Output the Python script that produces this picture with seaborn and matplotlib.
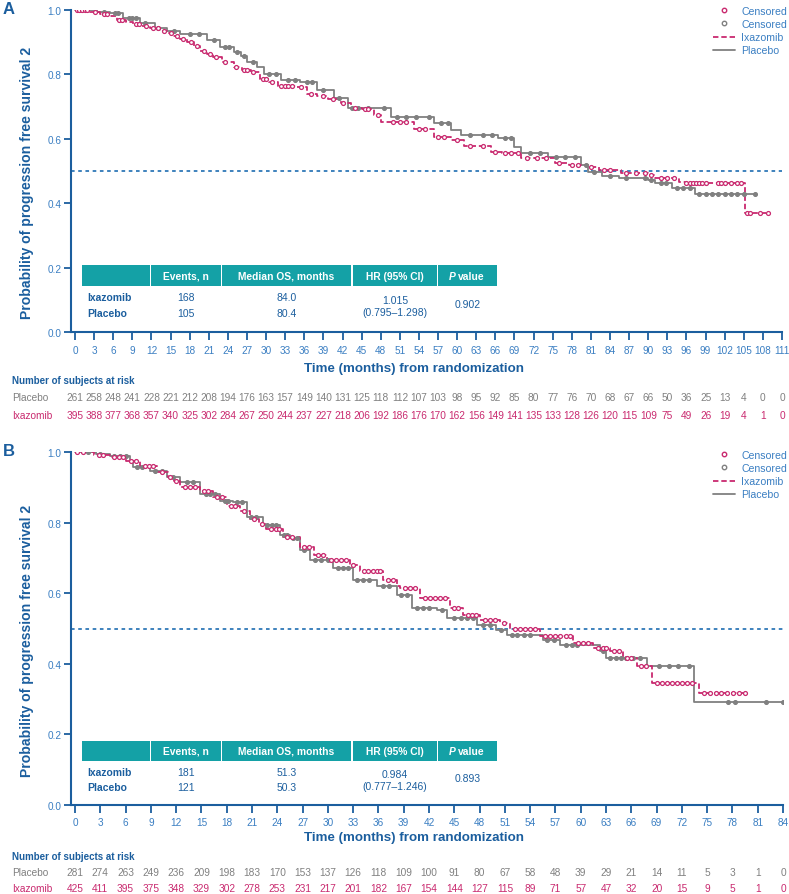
import numpy as np
import matplotlib
matplotlib.use('Agg')
import matplotlib.pyplot as plt
import matplotlib.transforms as mtrans
from matplotlib.lines import Line2D
from matplotlib.patches import Rectangle
import seaborn as sns

# ---------------------------------------------------------------------------
# Data
# ---------------------------------------------------------------------------
# Panel A: Kaplan-Meier steps (time in months, survival)
ixa_A_t = [0, 2.4, 3.9, 5.5, 6.6, 8.0, 9.1, 10.5, 11.8, 13.4, 14.5, 15.4, 16.5, 17.6, 18.7, 19.7,
           20.7, 21.7, 23.0, 24.9, 26.2, 27.6, 29.1, 30.5, 31.8, 34.8, 36.5, 38.0, 39.7, 41.7,
           43.3, 45.0, 47.0, 48.0, 53.2, 56.4, 59.0, 61.1, 65.3, 67.0, 70.0, 75.3, 77.5, 80.6,
           82.2, 85.8, 90.0, 91.0, 94.8, 95.8, 105.2]
ixa_A_s = [1.0, 0.993, 0.988, 0.982, 0.968, 0.962, 0.956, 0.950, 0.945, 0.935, 0.928, 0.919,
           0.910, 0.900, 0.888, 0.874, 0.864, 0.853, 0.838, 0.822, 0.814, 0.806, 0.785, 0.775,
           0.765, 0.762, 0.740, 0.732, 0.725, 0.712, 0.697, 0.692, 0.675, 0.653, 0.630, 0.606,
           0.597, 0.578, 0.560, 0.556, 0.541, 0.525, 0.519, 0.512, 0.503, 0.494, 0.487, 0.478,
           0.466, 0.462, 0.369]
ixa_A_end = 109.0
pla_A_t = [0, 3.5, 5.5, 7.5, 10.2, 12.5, 14.4, 16.5, 20.8, 22.8, 24.9, 26.0, 27.0, 28.5, 29.6,
           32.3, 35.4, 38.0, 40.6, 42.8, 49.6, 56.4, 59.0, 60.6, 66.4, 69.0, 70.1, 74.3, 79.5,
           80.6, 82.7, 85.4, 90.0, 91.0, 93.7, 97.3]
pla_A_s = [1.0, 0.995, 0.990, 0.975, 0.960, 0.945, 0.934, 0.925, 0.906, 0.884, 0.869, 0.858,
           0.840, 0.822, 0.800, 0.784, 0.775, 0.753, 0.728, 0.697, 0.669, 0.650, 0.628, 0.612,
           0.603, 0.575, 0.556, 0.544, 0.519, 0.497, 0.484, 0.478, 0.472, 0.462, 0.447, 0.428]
pla_A_end = 106.8

ixa_A_cens = [0.3, 0.7, 1.1, 1.5, 1.9, 3.2, 4.5, 5.0, 6.9, 7.4, 9.5, 10.0, 11.2, 12.2, 13.0, 14.0,
              15.0, 16.0, 17.0, 18.2, 19.2, 20.2, 21.2, 22.2, 23.5, 25.3, 26.5, 27.0, 28.0, 29.5,
              30.0, 31.0, 32.3, 33.0, 33.5, 34.0, 35.5, 37.0, 39.0, 40.5, 42.0, 44.0, 45.5, 46.0,
              47.5, 50.0, 51.0, 52.0, 54.0, 55.0, 57.0, 58.0, 60.0, 62.0, 64.0, 66.0, 67.5, 68.5,
              69.5, 71.0, 72.5, 74.0, 76.0, 78.0, 79.0, 81.0, 83.0, 84.0, 86.5, 88.0, 89.5, 90.5,
              92.0, 93.0, 94.0, 96.0, 96.5, 97.0, 97.5, 98.0, 98.5, 99.0, 101.0, 101.5, 102.0,
              103.0, 104.0, 104.5, 105.5, 106.0, 107.5, 108.8]
pla_A_cens = [1.0, 4.5, 6.2, 6.8, 8.5, 9.0, 9.6, 11.0, 13.0, 15.5, 18.0, 19.5, 21.8, 23.5, 24.2,
              25.5, 26.5, 28.0, 30.5, 31.5, 33.5, 34.5, 36.5, 37.2, 39.0, 41.5, 43.5, 44.5, 46.0,
              48.5, 50.5, 52.0, 53.5, 55.5, 57.5, 58.5, 62.0, 64.0, 65.5, 67.5, 68.5, 71.5, 73.0,
              75.5, 77.0, 78.5, 80.2, 81.5, 84.0, 86.5, 89.5, 90.5, 92.0, 92.8, 94.5, 95.5, 96.5,
              98.0, 99.0, 100.0, 101.0, 102.0, 103.0, 104.0, 105.0, 106.8]

# Panel B
ixa_B_t = [0, 2.2, 4.1, 6.1, 7.7, 9.7, 11.0, 11.7, 12.5, 14.8, 16.4, 18.0, 19.6, 20.8, 21.8, 22.7,
           24.7, 26.7, 28.3, 29.9, 32.6, 33.8, 36.6, 38.2, 38.6, 40.9, 44.5, 46.0, 48.0, 50.4,
           51.6, 55.2, 59.1, 61.4, 63.5, 65.0, 66.7, 68.5, 74.0]
ixa_B_s = [1.0, 0.992, 0.986, 0.975, 0.961, 0.943, 0.930, 0.918, 0.901, 0.890, 0.873, 0.848,
           0.834, 0.811, 0.797, 0.783, 0.760, 0.732, 0.707, 0.693, 0.679, 0.662, 0.637, 0.620,
           0.614, 0.586, 0.558, 0.538, 0.524, 0.515, 0.500, 0.479, 0.459, 0.445, 0.436, 0.417,
           0.394, 0.346, 0.316]
ixa_B_end = 79.5
pla_B_t = [0, 2.5, 4.1, 6.5, 6.9, 8.9, 10.9, 12.5, 14.8, 17.2, 18.7, 20.4, 22.3, 24.3, 25.5,
           26.7, 27.9, 30.6, 33.0, 35.8, 38.2, 40.0, 42.9, 44.1, 47.7, 50.0, 51.2, 55.5, 57.5,
           62.3, 63.0, 67.9, 73.5]
pla_B_s = [1.0, 0.995, 0.990, 0.975, 0.958, 0.946, 0.930, 0.915, 0.882, 0.862, 0.859, 0.817,
           0.792, 0.764, 0.755, 0.721, 0.693, 0.670, 0.637, 0.620, 0.594, 0.558, 0.552, 0.530,
           0.510, 0.496, 0.482, 0.468, 0.454, 0.437, 0.416, 0.394, 0.292]
pla_B_end = 84.0

ixa_B_cens = [0.3, 1.0, 2.8, 3.3, 4.6, 5.2, 5.7, 6.6, 7.2, 8.3, 8.8, 9.3, 10.3, 11.3, 12.0, 13.0,
              13.6, 14.2, 15.3, 15.8, 16.9, 17.4, 18.5, 19.0, 20.1, 21.3, 22.2, 23.2, 23.8, 24.2,
              25.2, 25.8, 27.2, 27.8, 28.8, 29.4, 30.4, 31.0, 31.6, 32.1, 33.0, 34.3, 34.8, 35.3,
              35.8, 36.2, 37.1, 37.7, 39.2, 39.8, 40.3, 41.5, 42.1, 42.7, 43.3, 43.9, 45.0, 45.5,
              46.6, 47.1, 47.6, 48.6, 49.2, 49.8, 50.9, 52.2, 52.8, 53.4, 54.0, 54.6, 55.8, 56.4,
              57.0, 57.6, 58.2, 58.7, 59.7, 60.3, 60.9, 62.0, 62.6, 63.0, 64.0, 64.5, 65.5, 66.0,
              67.2, 67.8, 69.0, 69.6, 70.2, 70.8, 71.4, 72.0, 72.6, 73.2, 74.6, 75.3, 76.0, 76.7,
              77.4, 78.1, 78.8, 79.5]
pla_B_cens = [1.5, 3.0, 4.6, 5.3, 6.0, 7.4, 8.0, 9.5, 10.3, 11.6, 13.3, 14.0, 15.5, 16.0, 16.6,
              17.8, 18.2, 19.2, 19.8, 20.9, 21.5, 22.8, 23.4, 23.9, 24.8, 25.1, 25.9, 26.3, 27.2,
              28.5, 29.2, 30.0, 31.2, 31.8, 32.4, 33.5, 34.2, 34.9, 36.5, 37.2, 38.7, 39.4, 40.6,
              41.3, 42.0, 43.5, 45.0, 45.8, 46.5, 47.2, 48.4, 49.2, 50.6, 51.8, 52.5, 53.3, 54.0,
              56.0, 56.8, 58.2, 59.0, 59.6, 62.6, 63.5, 64.2, 64.8, 65.4, 66.2, 67.0, 69.3, 70.5,
              71.5, 72.8, 77.5, 78.3, 82.0, 84.0]

# Number at risk
risk_A_times = list(range(0, 112, 3))
risk_A_pla = [261, 258, 248, 241, 228, 221, 212, 208, 194, 176, 163, 157, 149, 140, 131, 125, 118,
              112, 107, 103, 98, 95, 92, 85, 80, 77, 76, 70, 68, 67, 66, 50, 36, 25, 13, 4, 0, 0]
risk_A_ixa = [395, 388, 377, 368, 357, 340, 325, 302, 284, 267, 250, 244, 237, 227, 218, 206, 192,
              186, 176, 170, 162, 156, 149, 141, 135, 133, 128, 126, 120, 115, 109, 75, 49, 26,
              19, 4, 1, 0]
risk_B_times = list(range(0, 85, 3))
risk_B_pla = [281, 274, 263, 249, 236, 209, 198, 183, 170, 153, 137, 126, 118, 109, 100, 91, 80,
              67, 58, 48, 39, 29, 21, 14, 11, 5, 3, 1, 0]
risk_B_ixa = [425, 411, 395, 375, 348, 329, 302, 278, 253, 231, 217, 201, 182, 167, 154, 144, 127,
              115, 89, 71, 57, 47, 32, 20, 15, 9, 5, 1, 0]

# Summary table
table_header = ["", "Events, n", "Median OS, months", "HR (95% CI)", "value"]
table_rows = ["Ixazomib", "Placebo"]
events_A = ["168", "105"]
median_A = ["84.0", "80.4"]
hr_A = "1.015\n(0.795\u20131.298)"
p_A = "0.902"
events_B = ["181", "121"]
median_B = ["51.3", "50.3"]
hr_B = "0.984\n(0.777\u20131.246)"
p_B = "0.893"

# ---------------------------------------------------------------------------
# Style
# ---------------------------------------------------------------------------
MAG = '#C92A6F'
GRY = '#808080'
DARK = '#1B5E9E'
TICK = '#3A7EC2'
TEAL = '#14A1A6'
DOT = '#2F78B7'

sns.set_theme(style='white')
plt.rcParams['font.family'] = ['Liberation Sans', 'DejaVu Sans']

W, H = 789, 895
fig = plt.figure(figsize=(W / 100, H / 100), dpi=100)


def fx(x):
    return x / W


def fy(y):
    return 1 - y / H


def step_value(t, s, c):
    idx = np.searchsorted(np.asarray(t), c, side='right') - 1
    return np.asarray(s)[idx]


def draw_panel(letter, left, right, top, bottom, x0pad, xmax,
               ixa_t, ixa_s, ixa_end, pla_t, pla_s, pla_end, ixa_c, pla_c,
               r_times, r_pla, r_ixa, r_head_y, r_pla_y, r_ixa_y, xlabel_y,
               tab_top, tab_bot, row_y, events, median, hr, pval, leg_top):
    ax = fig.add_axes([fx(left), fy(bottom), fx(right) - fx(left), fy(top) - fy(bottom)])

    # median reference line
    ax.axhline(0.5, color=DOT, lw=1.3, ls=(0, (2, 2)), zorder=1)

    # KM curves
    sns.lineplot(x=pla_t + [pla_end], y=pla_s + [pla_s[-1]], ax=ax, color=GRY, lw=1.3,
                 drawstyle='steps-post', estimator=None, sort=False, zorder=3)
    sns.lineplot(x=ixa_t + [ixa_end], y=ixa_s + [ixa_s[-1]], ax=ax, color=MAG, lw=1.3,
                 linestyle=(0, (3, 1.6)), drawstyle='steps-post', estimator=None, sort=False,
                 zorder=4)

    # censor marks
    sns.scatterplot(x=pla_c, y=step_value(pla_t, pla_s, pla_c), ax=ax, color=GRY,
                    edgecolor=GRY, s=8, linewidth=0.8, marker='o', zorder=5)
    sns.scatterplot(x=ixa_c, y=step_value(ixa_t, ixa_s, ixa_c), ax=ax, facecolor='white',
                    edgecolor=MAG, s=8, linewidth=0.9, marker='o', zorder=6)

    ax.set_xlim(-x0pad, xmax)
    ax.set_ylim(0, 1.0)
    ax.set_xticks(r_times)
    ax.set_yticks([0.0, 0.2, 0.4, 0.6, 0.8, 1.0])
    ax.yaxis.set_major_formatter(plt.FuncFormatter(lambda v, _: f'{v:.1f}'))
    ax.tick_params(axis='both', direction='out', length=5, width=1.3, color=DARK,
                   labelcolor=TICK, labelsize=7.2, pad=2, bottom=True, left=True)
    ax.tick_params(axis='x', length=6, pad=3)
    for side in ['top', 'right']:
        ax.spines[side].set_visible(False)
    for side in ['left', 'bottom']:
        ax.spines[side].set_color(DARK)
        ax.spines[side].set_linewidth(1.5)
    ax.set_xlabel('')
    ax.set_ylabel('Probability of progression free survival 2', fontsize=10.1,
                  fontweight='bold', color=DARK)
    # label sits a little below the axes centre in the reference
    ax.yaxis.set_label_coords((34 - left) / (right - left), (bottom - (top + bottom) / 2 - 11)
                              / (bottom - top))
    for t in ax.get_xticklabels() + ax.get_yticklabels():
        t.set_clip_on(False)

    # x label
    fig.text(fx(414), fy(xlabel_y), 'Time (months) from randomization', ha='center',
             va='center', fontsize=9.6, fontweight='bold', color=DARK)

    # panel letter
    fig.text(fx(3), fy(top - 1), letter, ha='left', va='center', fontsize=12,
             fontweight='bold', color=DARK)

    # legend
    handles = [
        Line2D([], [], ls='none', marker='o', ms=3.2, mfc='white', mec=MAG, mew=1.0),
        Line2D([], [], ls='none', marker='o', ms=3.2, mfc='white', mec=GRY, mew=1.0),
        Line2D([], [], color=MAG, lw=1.3, ls=(0, (3, 1.6))),
        Line2D([], [], color=GRY, lw=1.3),
    ]
    ax.legend(handles, ['Censored', 'Censored', 'Ixazomib', 'Placebo'], loc='upper right',
              bbox_to_anchor=(fx(787), fy(leg_top)), bbox_transform=fig.transFigure,
              frameon=False, fontsize=7.6, labelcolor=TICK, handlelength=2.1,
              handletextpad=0.6, labelspacing=0.3, borderaxespad=0, borderpad=0)

    # numbers at risk
    tr = mtrans.blended_transform_factory(ax.transData, fig.transFigure)
    fig.text(fx(12), fy(r_head_y), 'Number of subjects at risk', ha='left', va='center',
             fontsize=7.0, fontweight='bold', color=DARK)
    fig.text(fx(12), fy(r_pla_y), 'Placebo', ha='left', va='center', fontsize=7.3, color=GRY)
    fig.text(fx(12), fy(r_ixa_y), 'Ixazomib', ha='left', va='center', fontsize=7.3, color=MAG)
    for t, a, b in zip(r_times, r_pla, r_ixa):
        ax.text(t, fy(r_pla_y), str(a), transform=tr, ha='center', va='center',
                fontsize=7.3, color=GRY, clip_on=False)
        ax.text(t, fy(r_ixa_y), str(b), transform=tr, ha='center', va='center',
                fontsize=7.3, color=MAG, clip_on=False)

    # summary table
    cols = [(82, 150), (151, 221), (222, 351), (353, 437), (438, 497)]
    for (c0, c1), head in zip(cols, table_header):
        fig.add_artist(Rectangle((fx(c0), fy(tab_bot)), fx(c1) - fx(c0), fy(tab_top) - fy(tab_bot),
                                 transform=fig.transFigure, facecolor=TEAL, edgecolor='none'))
        cx = (c0 + c1) / 2
        cy = (tab_top + tab_bot) / 2
        if head == 'value':
            fig.text(fx(cx - 12), fy(cy), 'P', ha='right', va='center', fontsize=7.4,
                     fontweight='bold', style='italic', color='white')
            fig.text(fx(cx - 10), fy(cy), 'value', ha='left', va='center', fontsize=7.4,
                     fontweight='bold', color='white')
        elif head:
            fig.text(fx(cx), fy(cy), head, ha='center', va='center', fontsize=7.4,
                     fontweight='bold', color='white')
    mid_y = (row_y[0] + row_y[1]) / 2
    for i, name in enumerate(table_rows):
        fig.text(fx(87), fy(row_y[i]), name, ha='left', va='center', fontsize=7.5,
                 fontweight='bold', color=DARK)
        fig.text(fx(sum(cols[1]) / 2), fy(row_y[i]), events[i], ha='center', va='center',
                 fontsize=7.5, color=DARK)
        fig.text(fx(sum(cols[2]) / 2), fy(row_y[i]), median[i], ha='center', va='center',
                 fontsize=7.5, color=DARK)
    fig.text(fx(sum(cols[3]) / 2), fy(mid_y + 1), hr, ha='center', va='center', fontsize=7.5,
             color=DARK, linespacing=1.25)
    fig.text(fx(sum(cols[4]) / 2), fy(mid_y - 1), pval, ha='center', va='center',
             fontsize=7.5, color=DARK)
    return ax


draw_panel('A', 71, 782, 11, 333, 0.63, 111,
           ixa_A_t, ixa_A_s, ixa_A_end, pla_A_t, pla_A_s, pla_A_end, ixa_A_cens, pla_A_cens,
           risk_A_times, risk_A_pla, risk_A_ixa, 381, 398, 416, 369,
           266, 287, (298, 314), events_A, median_A, hr_A, p_A, 7)

draw_panel('B', 71, 783, 453, 806, 0.47, 84,
           ixa_B_t, ixa_B_s, ixa_B_end, pla_B_t, pla_B_s, pla_B_end, ixa_B_cens, pla_B_cens,
           risk_B_times, risk_B_pla, risk_B_ixa, 857, 873, 889, 838,
           742, 762, (773, 788), events_B, median_B, hr_B, p_B, 451)

fig.savefig('out.png', dpi=100)
